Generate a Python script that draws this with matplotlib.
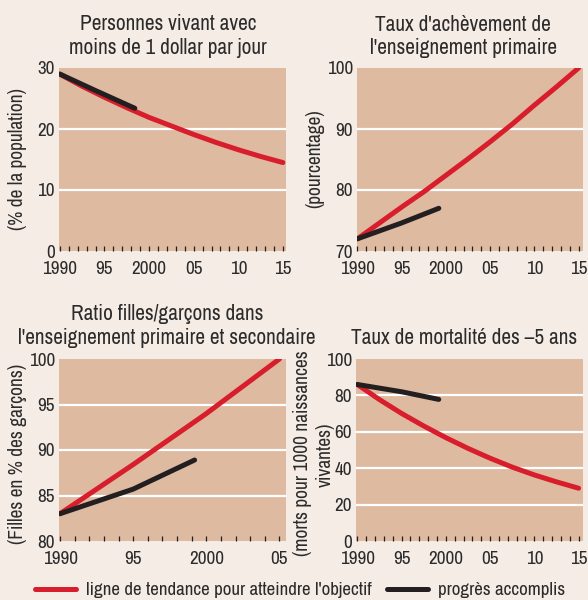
import matplotlib
matplotlib.use("Agg")
import matplotlib.pyplot as plt
from matplotlib import font_manager as fm
from matplotlib.ticker import MultipleLocator

# ---------------- data ----------------
annees_25 = [1990, 1992.5, 1995, 1997.5, 2000, 2002.5, 2005, 2007.5, 2010, 2012.5, 2015]

# Personnes vivant avec moins de 1 dollar par jour
pauvrete_tendance = [29, 27.0, 25.2, 23.5, 21.9, 20.5, 19.1, 17.8, 16.6, 15.5, 14.5]
pauvrete_prog_annees = [1990, 1994, 1998.4]
pauvrete_progres = [29, 26.3, 23.4]

# Taux d'achevement de l'enseignement primaire
primaire_tendance = [72, 74.6, 77.2, 79.7, 82.4, 85.1, 87.9, 90.8, 93.9, 96.9, 100]
primaire_prog_annees = [1990, 1995, 1999.2]
primaire_progres = [72, 74.6, 77.0]

# Ratio filles/garcons
ratio_annees = [1990, 1995, 2000, 2005]
ratio_tendance = [83, 88.4, 94.0, 100]
ratio_prog_annees = [1990, 1995, 1999.2]
ratio_progres = [83, 85.7, 88.9]

# Taux de mortalite des -5 ans
mortalite_tendance = [86, 77.7, 70.1, 63.2, 56.8, 50.9, 45.5, 40.6, 36.3, 32.5, 29.0]
mortalite_prog_annees = [1990, 1995, 1999.2]
mortalite_progres = [86, 82.0, 77.8]

labels_longs = ['1990', '95', '2000', '05', '10', '15']
labels_courts = ['1990', '95', '2000', '05']

# ---------------- police : une etroite si possible ----------------
polices = fm.fontManager.ttflist
etroites = [f.name for f in polices if 'Narrow' in f.name]
etroites += [f.name for f in polices if 'Condensed' in f.name]
if etroites:
    plt.rcParams['font.family'] = [etroites[0], 'DejaVu Sans']
elif any(f.stretch == 'condensed' for f in polices):
    nom = [f.name for f in polices if f.stretch == 'condensed'][0]
    plt.rcParams['font.family'] = [nom, 'DejaVu Sans']
    plt.rcParams['font.stretch'] = 'condensed'
else:
    plt.rcParams['font.family'] = ['Roboto', 'DejaVu Sans']

# ---------------- style ----------------
FOND = '#F5ECE6'
ZONE = '#DEBAA1'
ROUGE = '#D81E2C'
NOIR = '#231F20'
TEXTE = '#2B2B2B'
W, H = 588, 600

fig = plt.figure(figsize=(W / 100, H / 100), dpi=100, facecolor=FOND)
rendu = fig.canvas.get_renderer()


def taille(s, largeur_px, maxi):
    # taille de police pour que le texte ait la largeur du modele
    t = fig.text(0, 0, s, fontsize=12)
    w = t.get_window_extent(rendu).width
    t.remove()
    return min(maxi, 12 * largeur_px / w)


T_TITRE = taille("l'enseignement primaire et secondaire", 298, 16)
T_GRAD = taille('2000', 35, 14)
T_ETIQ = taille('(% de la population)', 142, 14)
T_LEG = taille("ligne de tendance pour atteindre l'objectif", 285, 15)


def px(x0, y0, x1, y1):
    return [x0 / W, 1 - y1 / H, (x1 - x0) / W, (y1 - y0) / H]


def panneau(rect, xlim, ylim, yticks, grilles, xticks, xlabels):
    ax = fig.add_axes(rect)
    ax.set_facecolor(ZONE)
    for s in ax.spines.values():
        s.set_visible(False)
    ax.set_xlim(*xlim)
    ax.set_ylim(*ylim)
    for g in grilles:
        ax.axhline(g, color='white', lw=1.6, zorder=1)
    ax.set_yticks(yticks)
    ax.tick_params(axis='y', length=0, pad=3, labelsize=T_GRAD, labelcolor=TEXTE)
    ax.set_xticks(xticks)
    ax.set_xticklabels(xlabels)
    ax.xaxis.set_minor_locator(MultipleLocator(1))
    ax.tick_params(axis='x', which='both', direction='in', length=3.5,
                   width=0.9, color=NOIR, pad=7, labelsize=T_GRAD,
                   labelcolor=TEXTE)
    return ax


def trace(ax, xa, ya, xb, yb):
    r, = ax.plot(xa, ya, color=ROUGE, lw=3.6, solid_capstyle='round',
                 solid_joinstyle='round', zorder=3)
    n, = ax.plot(xb, yb, color=NOIR, lw=3.6, solid_capstyle='round',
                 solid_joinstyle='round', zorder=4)
    return r, n


ax1 = panneau(px(59, 68, 286, 251), (1989.9, 2015.35), (0, 30),
              [0, 10, 20, 30], [10, 20], [1990, 1995, 2000, 2005, 2010, 2015],
              labels_longs)
trace(ax1, annees_25, pauvrete_tendance, pauvrete_prog_annees, pauvrete_progres)

ax2 = panneau(px(357, 68, 583, 251), (1989.95, 2015.5), (70, 100),
              [70, 80, 90, 100], [80, 90], [1990, 1995, 2000, 2005, 2010, 2015],
              labels_longs)
trace(ax2, annees_25, primaire_tendance, primaire_prog_annees, primaire_progres)

ax3 = panneau(px(59, 359, 286, 541), (1989.93, 2005.45), (80, 100),
              [80, 85, 90, 95, 100], [85, 90, 95], [1990, 1995, 2000, 2005],
              labels_courts)
trace(ax3, ratio_annees, ratio_tendance, ratio_prog_annees, ratio_progres)

ax4 = panneau(px(356, 359, 583, 541), (1989.85, 2015.5), (0, 100),
              [0, 20, 40, 60, 80, 100], [20, 40, 60, 80],
              [1990, 1995, 2000, 2005, 2010, 2015], labels_longs)
rouge, noir = trace(ax4, annees_25, mortalite_tendance,
                    mortalite_prog_annees, mortalite_progres)


def titre(x, y, s):
    fig.text(x / W, 1 - y / H, s, ha='center', va='baseline',
             fontsize=T_TITRE, color=TEXTE)


titre(168, 30, 'Personnes vivant avec')
titre(168, 53.5, 'moins de 1 dollar par jour')
titre(463, 31, "Taux d'achèvement de")
titre(463, 53.5, "l'enseignement primaire")
titre(167, 320.5, 'Ratio filles/garçons dans')
titre(167, 343.5, "l'enseignement primaire et secondaire")
titre(464, 344, 'Taux de mortalité des –5 ans')


def etiquette(x, y, s):
    fig.text(x / W, 1 - y / H, s, ha='center', va='center', rotation=90,
             fontsize=T_ETIQ, color=TEXTE)


etiquette(18, 159, '(% de la population)')
etiquette(315, 159, '(pourcentage)')
etiquette(18, 454, '(Filles en % des garçons)')
etiquette(303, 453, '(morts pour 1000 naissances')
etiquette(325, 455, 'vivantes)')

fig.legend([rouge, noir],
           ["ligne de tendance pour atteindre l'objectif", 'progrès accomplis'],
           loc='center', bbox_to_anchor=(300 / W, 1 - 590 / H), ncol=2,
           frameon=False, fontsize=T_LEG, handlelength=2.15, handletextpad=0.53,
           columnspacing=0.8, labelcolor=TEXTE)

fig.savefig('out.png', dpi=100, facecolor=FOND)
